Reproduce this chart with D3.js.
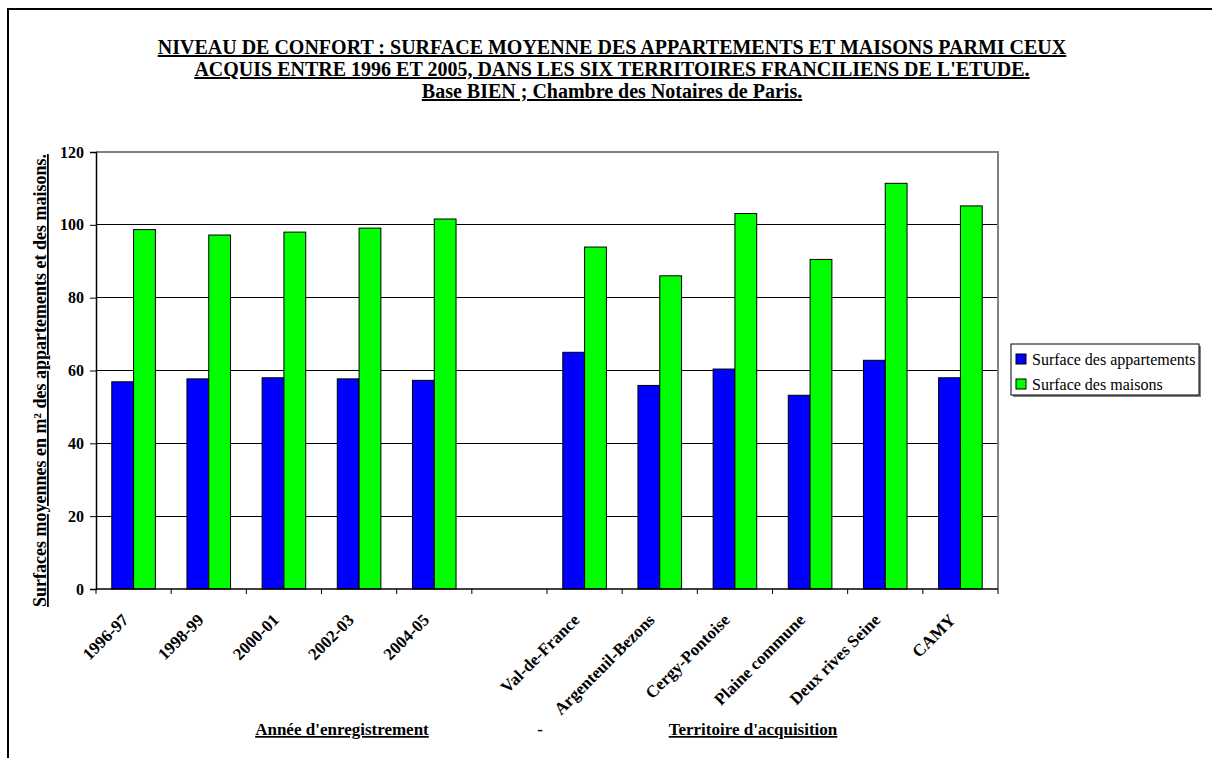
<!DOCTYPE html>
<html>
<head>
<meta charset="utf-8">
<script src="https://cdn.jsdelivr.net/npm/d3@7"></script>
<style>
  html, body { margin: 0; padding: 0; background: #fff; }
  text { font-family: "Liberation Serif", "Times New Roman", serif; }
</style>
</head>
<body>
<svg id="chart" width="1212" height="758"></svg>
<script>
const categories = ["1996-97", "1998-99", "2000-01", "2002-03", "2004-05", "",
  "Val-de-France", "Argenteuil-Bezons", "Cergy-Pontoise", "Plaine commune", "Deux rives Seine", "CAMY"];
const seriesNames = ["Surface des appartements", "Surface des maisons"];
const apartments = [56.9, 57.7, 58.0, 57.7, 57.3, null, 65.0, 55.9, 60.4, 53.2, 62.8, 58.0];
const houses = [98.7, 97.2, 98.0, 99.1, 101.6, null, 93.9, 86.0, 103.1, 90.5, 111.4, 105.2];
const yTicks = [0, 20, 40, 60, 80, 100, 120];
const titleLines = [
  "NIVEAU DE CONFORT : SURFACE MOYENNE DES APPARTEMENTS ET MAISONS PARMI CEUX",
  "ACQUIS ENTRE 1996 ET 2005, DANS LES SIX TERRITOIRES FRANCILIENS DE L'ETUDE.",
  "Base BIEN ; Chambre des Notaires de Paris."
];
const yTitle = "Surfaces moyennes en m² des appartements et des maisons.";
const groupLabels = ["Année d'enregistrement", "-", "Territoire d'acquisition"];
const colors = ["#0000ff", "#00ff00"];

const svg = d3.select("#chart");
const L = 96, R = 998, T = 152, B = 589;

// outer border
svg.append("rect").attr("x", 8).attr("y", 9).attr("width", 1230).attr("height", 800)
  .attr("fill", "none").attr("stroke", "#000").attr("stroke-width", 2);

const x = d3.scaleBand().domain(categories).range([L, R]).paddingInner(0.42).paddingOuter(0.21);
const xs = d3.scaleBand().domain(seriesNames).range([0, x.bandwidth()]);
const y = d3.scaleLinear().domain([0, 120]).range([B, T]);
const step = x.step();

// gridlines
svg.append("g").selectAll("line").data(yTicks.filter(t => t > 0 && t < 120)).join("line")
  .attr("x1", L).attr("x2", R).attr("y1", d => y(d)).attr("y2", d => y(d))
  .attr("stroke", "#000").attr("stroke-width", 1).attr("shape-rendering", "crispEdges");
// plot border top/right
svg.append("path").attr("d", `M${L},${y(120)}H${R}V${B}`).attr("fill", "none")
  .attr("stroke", "#808080").attr("stroke-width", 1.5).attr("shape-rendering", "crispEdges");

// bars
const data = categories.map((c, i) => ({ c, vals: [apartments[i], houses[i]] }));
const groups = svg.append("g").selectAll("g").data(data.filter(d => d.c !== "")).join("g")
  .attr("transform", d => `translate(${x(d.c)},0)`);
groups.selectAll("rect").data(d => d.vals.map((v, k) => ({ v, k }))).join("rect")
  .attr("x", d => xs(seriesNames[d.k]))
  .attr("width", xs.bandwidth())
  .attr("y", d => y(d.v))
  .attr("height", d => y(0) - y(d.v))
  .attr("fill", d => colors[d.k])
  .attr("stroke", "#000").attr("stroke-width", 1);

// y axis
const yAxis = d3.axisLeft(y).tickValues(yTicks).tickSize(6).tickPadding(6);
const gy = svg.append("g").attr("transform", `translate(${L},0)`).call(yAxis);
gy.select(".domain").attr("stroke", "#000").attr("stroke-width", 1.5);
gy.selectAll(".tick line").attr("stroke", "#000");
gy.selectAll(".tick text").attr("font-family", "Liberation Serif").attr("font-weight", "bold")
  .attr("font-size", 16).attr("fill", "#000");

// x axis
svg.append("line").attr("x1", L).attr("x2", R).attr("y1", B).attr("y2", B)
  .attr("stroke", "#000").attr("stroke-width", 1.5);
svg.append("g").selectAll("line").data(d3.range(categories.length + 1)).join("line")
  .attr("x1", i => L + i * step).attr("x2", i => L + i * step)
  .attr("y1", B).attr("y2", B + 5).attr("stroke", "#000");
svg.append("g").selectAll("text").data(categories.filter(c => c !== "")).join("text")
  .attr("transform", c => `translate(${x(c) + x.bandwidth() / 2 - 4},${B + 32}) rotate(-45)`)
  .attr("text-anchor", "end")
  .attr("font-weight", "bold").attr("font-size", 17).attr("fill", "#000")
  .text(c => c);

// title
svg.append("g").selectAll("text").data(titleLines).join("text")
  .attr("x", 612).attr("y", (d, i) => 54 + i * 22)
  .attr("text-anchor", "middle").attr("font-weight", "bold").attr("font-size", 20)
  .attr("text-decoration", "underline").attr("fill", "#000")
  .text(d => d);

// y title
svg.append("text")
  .attr("transform", `translate(46,${(T + B) / 2 + 10}) rotate(-90)`)
  .attr("text-anchor", "middle").attr("font-weight", "bold").attr("font-size", 18)
  .attr("text-decoration", "underline").attr("fill", "#000")
  .text(yTitle);

// group labels
const glX = [342, 540, 753];
svg.append("g").selectAll("text").data(groupLabels).join("text")
  .attr("x", (d, i) => glX[i]).attr("y", 735)
  .attr("text-anchor", "middle").attr("font-weight", "bold").attr("font-size", 17)
  .attr("text-decoration", d => d === "-" ? "none" : "underline").attr("fill", "#000")
  .text(d => d);

// legend
const lg = svg.append("g").attr("transform", "translate(1011,344)");
lg.append("rect").attr("x", 2).attr("y", 2).attr("width", 188).attr("height", 51).attr("fill", "#808080");
lg.append("rect").attr("width", 188).attr("height", 51).attr("fill", "#fff").attr("stroke", "#000");
const li = lg.selectAll("g.item").data(seriesNames).join("g").attr("class", "item")
  .attr("transform", (d, i) => `translate(5,${10 + i * 25})`);
li.append("rect").attr("width", 10).attr("height", 10)
  .attr("fill", (d, i) => colors[i]).attr("stroke", "#000");
li.append("text").attr("x", 16).attr("y", 11).attr("font-size", 16).attr("fill", "#000").text(d => d);
</script>
</body>
</html>
